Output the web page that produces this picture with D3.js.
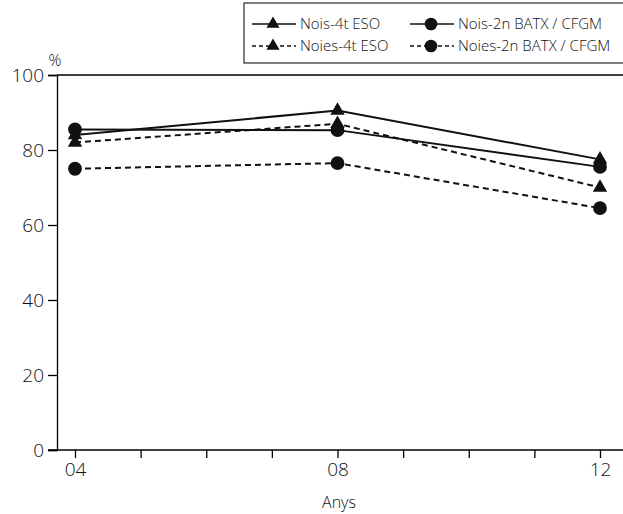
<!DOCTYPE html>
<html><head><meta charset="utf-8">
<script src="https://cdn.jsdelivr.net/npm/d3@7"></script>
<style>
body{margin:0;background:#fff;}
text{font-family:"Open Sans","Noto Sans",sans-serif;fill:#111;font-weight:300;}
</style></head>
<body>
<svg id="chart" width="623" height="514"></svg>
<script>
const years = [2004, 2008, 2012];
const tickYears = [2004,2005,2006,2007,2008,2009,2010,2011,2012];
const yTicks = [0,20,40,60,80,100];
const seriesNames = ["Nois-4t ESO","Nois-2n BATX / CFGM","Noies-4t ESO","Noies-2n BATX / CFGM"];
const nois4t = [84, 90.5, 77.5];
const nois2n = [85.5, 85.3, 75.5];
const noies4t = [82, 87, 70];
const noies2n = [75, 76.5, 64.5];

const series = [
  {name: seriesNames[2], values: noies4t, dashed: true, shape: "tri"},
  {name: seriesNames[3], values: noies2n, dashed: true, shape: "circ"},
  {name: seriesNames[0], values: nois4t, dashed: false, shape: "tri"},
  {name: seriesNames[1], values: nois2n, dashed: false, shape: "circ"}
];

const svg = d3.select("#chart");
const x = d3.scaleLinear().domain([2004, 2012]).range([75, 600]);
const y = d3.scaleLinear().domain([0, 100]).range([450, 75]);
const left = 57, right = 623;

svg.append("line").attr("x1", left).attr("x2", right).attr("y1", y(100)).attr("y2", y(100))
  .attr("stroke", "#000").attr("stroke-width", 1.3);

const ya = svg.append("g").attr("transform", `translate(${left},0)`)
  .call(d3.axisLeft(y).tickValues(yTicks).tickSize(9).tickPadding(4));
ya.select(".domain").attr("stroke-width", 1.3);
ya.selectAll(".tick line").attr("stroke-width", 1.3);
ya.selectAll("text").style("font-size", "19px").attr("fill", "#111");

const xa = svg.append("g").attr("transform", `translate(0,${y(0)})`)
  .call(d3.axisBottom(x).tickValues(tickYears).tickSize(8).tickPadding(5)
    .tickFormat(d => (d % 4 === 0) ? String(d).slice(2) : ""));
xa.select(".domain").remove();
xa.selectAll(".tick line").attr("stroke-width", 1.3);
xa.selectAll("text").style("font-size", "19px").attr("fill", "#111");
svg.append("line").attr("x1", left - 9).attr("x2", right).attr("y1", y(0)).attr("y2", y(0))
  .attr("stroke", "#000").attr("stroke-width", 1.3);

svg.append("text").attr("x", 55).attr("y", 66).attr("text-anchor", "middle")
  .style("font-size", "16px").text("%");
svg.append("text").attr("x", 339).attr("y", 508).attr("text-anchor", "middle")
  .style("font-size", "16px").text("Anys");

const line = d3.line().x((d, i) => x(years[i])).y(d => y(d));
const triSym = d3.symbol().type(d3.symbolTriangle).size(90);
const circSym = d3.symbol().type(d3.symbolCircle).size(150);

series.forEach(s => {
  svg.append("path").datum(s.values).attr("d", line)
    .attr("fill", "none").attr("stroke", "#111").attr("stroke-width", 2)
    .attr("stroke-dasharray", s.dashed ? "6,4" : null);
});
series.forEach(s => {
  svg.selectAll(null).data(s.values).enter().append("path")
    .attr("d", s.shape === "tri" ? triSym() : circSym())
    .attr("transform", (d, i) => `translate(${x(years[i])},${y(d)})`)
    .attr("fill", "#111");
});

const lg = svg.append("g");
lg.append("rect").attr("x", 244).attr("y", 3).attr("width", 400).attr("height", 60)
  .attr("fill", "#fff").attr("stroke", "#000").attr("stroke-width", 1);
const legendItems = [
  {name: seriesNames[0], dashed: false, shape: "tri", lx: 252, row: 0},
  {name: seriesNames[1], dashed: false, shape: "circ", lx: 410, row: 0},
  {name: seriesNames[2], dashed: true, shape: "tri", lx: 252, row: 1},
  {name: seriesNames[3], dashed: true, shape: "circ", lx: 410, row: 1}
];
legendItems.forEach(it => {
  const cy = 24 + it.row * 22;
  lg.append("line").attr("x1", it.lx).attr("x2", it.lx + 44).attr("y1", cy).attr("y2", cy)
    .attr("stroke", "#111").attr("stroke-width", 1.5)
    .attr("stroke-dasharray", it.dashed ? "4,3" : null);
  lg.append("path").attr("d", it.shape === "tri" ? d3.symbol().type(d3.symbolTriangle).size(75)() : d3.symbol().type(d3.symbolCircle).size(125)())
    .attr("transform", `translate(${it.lx + 21},${cy})`).attr("fill", "#111");
  lg.append("text").attr("x", it.lx + 48).attr("y", cy).attr("dy", "0.35em")
    .style("font-size", "15px").text(it.name);
});
</script>
</body></html>
